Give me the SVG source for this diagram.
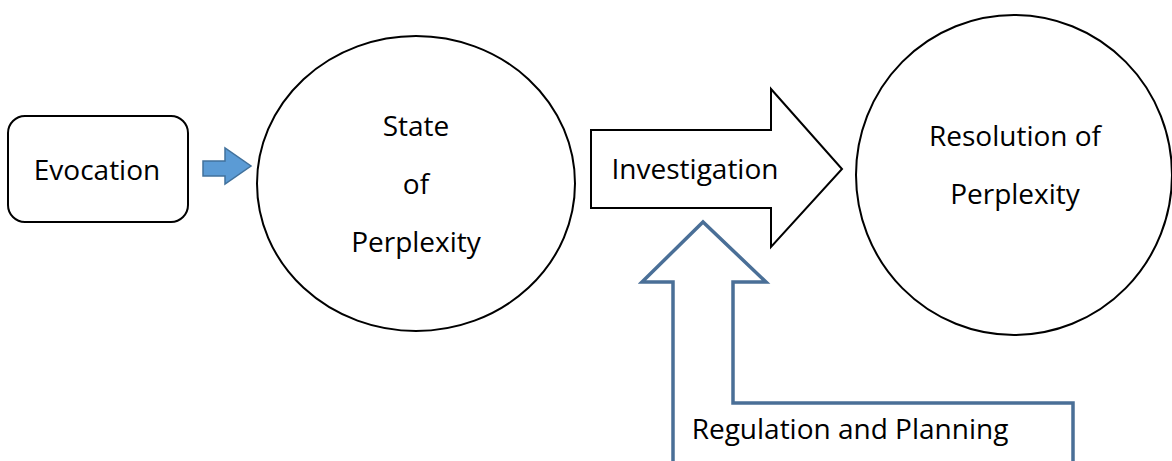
<svg xmlns="http://www.w3.org/2000/svg" width="1172" height="461" viewBox="0 0 1172 461">
<style>
  .shape { fill: #ffffff; stroke: #000000; stroke-width: 2; }
  .label { font-family: "Open Sans", "Liberation Sans", sans-serif; font-size: 28px; fill: #000000; text-anchor: middle; }
  .blue-out { fill: #ffffff; stroke: #4a6f97; stroke-width: 3.5; stroke-linejoin: miter; }
  .blue-fill { fill: #5b9bd5; stroke: #41719c; stroke-width: 1.5; }
</style>
<rect width="1172" height="461" fill="#ffffff"/>
<g id="connectors">
  <path id="evocation-arrow" class="blue-fill" d="M203,161 L225,161 L225,148 L251,166 L225,184 L225,176 L203,176 Z"/>
  <g id="investigation">
    <path class="shape" d="M591,130 L771,130 L771,89 L842,169 L771,247 L771,208 L591,208 Z"/>
    <text class="label" x="695" y="179">Investigation</text>
  </g>
  <g id="regulation">
    <path class="blue-out" d="M673,470 L673,282 L642,282 L703,222 L766,282 L733,282 L733,403 L1073,403 L1073,470"/>
    <text class="label" x="850" y="439">Regulation and Planning</text>
  </g>
</g>
<g id="evocation">
  <rect class="shape" x="8" y="116" width="180" height="106" rx="17" ry="17"/>
  <text class="label" x="97" y="180">Evocation</text>
</g>
<g id="state">
  <ellipse class="shape" cx="416" cy="183.5" rx="159" ry="147.5"/>
  <text class="label" x="416" y="136">State</text>
  <text class="label" x="416" y="194">of</text>
  <text class="label" x="416" y="252">Perplexity</text>
</g>
<g id="resolution">
  <ellipse class="shape" cx="1014" cy="175" rx="158" ry="160"/>
  <text class="label" x="1015" y="146">Resolution of</text>
  <text class="label" x="1015" y="204">Perplexity</text>
</g>
</svg>
